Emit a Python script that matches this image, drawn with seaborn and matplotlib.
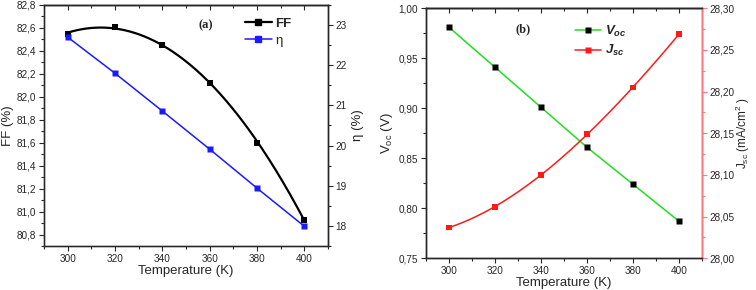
import numpy as np
import matplotlib
matplotlib.use("Agg")
import matplotlib.pyplot as plt
import seaborn as sns
from matplotlib.ticker import FuncFormatter, MultipleLocator
from matplotlib.lines import Line2D

# ---- data ----
temperature = [300, 320, 340, 360, 380, 400]
ff = [82.55, 82.61, 82.45, 82.12, 81.60, 80.93]
eta = [22.70, 21.80, 20.86, 19.91, 18.94, 17.99]
voc = [0.981, 0.941, 0.901, 0.861, 0.824, 0.787]
jsc = [28.037, 28.062, 28.100, 28.149, 28.205, 28.269]

sns.set_theme(style="ticks")
plt.rcParams['font.family'] = ['Liberation Sans', 'DejaVu Sans']
plt.rcParams['mathtext.fontset'] = 'custom'
plt.rcParams['mathtext.rm'] = 'Liberation Sans'
plt.rcParams['mathtext.it'] = 'Liberation Sans:italic:bold'
plt.rcParams['mathtext.bf'] = 'Liberation Sans:bold'

TICK = 7.2
LAB = 9.5

def comma(dec):
    return FuncFormatter(lambda v, p: f"{v:.{dec}f}".replace('.', ','))

fig = plt.figure(figsize=(7.56, 2.90), dpi=100)
axA = fig.add_axes([0.0582, 0.1517, 0.3757, 0.8311])
axB = fig.add_axes([0.5635, 0.1093, 0.3651, 0.8621])

T = np.array(temperature, dtype=float)
tt = np.linspace(300, 400, 200)

# ---- panel (a) ----
ffit = np.polyval(np.polyfit(T, ff, 2), tt)
sns.lineplot(x=tt, y=ffit, ax=axA, color='black', lw=1.6)
sns.scatterplot(x=T, y=ff, ax=axA, marker='s', color='black', s=18, edgecolor='none', zorder=5)
axA.set_xlim(290, 410)
axA.set_ylim(80.7, 82.8)
axA.yaxis.set_major_locator(MultipleLocator(0.2))
axA.yaxis.set_minor_locator(MultipleLocator(0.1))
axA.yaxis.set_major_formatter(comma(1))
axA.set_ylabel("FF (%)", fontsize=LAB, labelpad=2)

axA2 = axA.twinx()
sns.lineplot(x=T, y=eta, ax=axA2, color='#1a1aff', lw=1.1, marker='s', markersize=4.5,
             markeredgecolor='none')
axA2.set_ylim(17.5, 23.5)
axA2.yaxis.set_major_locator(MultipleLocator(1))
axA2.yaxis.set_minor_locator(MultipleLocator(0.5))
axA2.yaxis.set_major_formatter(comma(0))
axA2.set_ylabel("η (%)", fontsize=LAB, labelpad=4)

axA.text(0.57, 0.915, "(a)", transform=axA.transAxes, fontsize=9, fontweight='bold',
         family='Liberation Serif', ha='center', va='center')
hA = [Line2D([], [], color='black', lw=1.6, marker='s', markersize=4.5),
      Line2D([], [], color='#1a1aff', lw=1.1, marker='s', markersize=4.5)]
legA = axA.legend(hA, ["FF", "η"], loc='upper left', bbox_to_anchor=(0.69, 0.97),
                  frameon=False, fontsize=9.5, handlelength=2.0, handletextpad=0.3,
                  labelspacing=0.35, borderaxespad=0)
legA.get_texts()[0].set_fontweight('bold')

# ---- panel (b) ----
sns.lineplot(x=T, y=voc, ax=axB, color='#22dd22', lw=1.1, marker='s', markersize=4.5,
             markerfacecolor='black', markeredgecolor='none')
axB.set_xlim(290, 410)
axB.set_ylim(0.75, 1.00)
axB.yaxis.set_major_locator(MultipleLocator(0.05))
axB.yaxis.set_minor_locator(MultipleLocator(0.025))
axB.yaxis.set_major_formatter(comma(2))
axB.set_ylabel(r"V$_{\rm oc}$ (V)", fontsize=LAB, labelpad=3)

axB2 = axB.twinx()
jfit = np.polyval(np.polyfit(T, jsc, 3), tt)
sns.lineplot(x=tt, y=jfit, ax=axB2, color='#ff1a1a', lw=1.1)
sns.scatterplot(x=T, y=jsc, ax=axB2, marker='s', color='#ff1a1a', s=18, edgecolor='none', zorder=5)
axB2.set_ylim(28.00, 28.30)
axB2.yaxis.set_major_locator(MultipleLocator(0.05))
axB2.yaxis.set_minor_locator(MultipleLocator(0.025))
axB2.yaxis.set_major_formatter(comma(2))
axB2.set_ylabel(r"J$_{\rm sc}$ (mA/cm$^{\rm 2}$ )", fontsize=8.5, rotation=90,
                ha='center', va='center')
axB2.yaxis.set_label_coords(1.148, 0.5)
axB2.spines['right'].set_color('#ff7b7b')
axB2.spines['right'].set_linewidth(1.3)
axB2.tick_params(axis='y', which='both', color='#ff7b7b')

axB.text(0.35, 0.915, "(b)", transform=axB.transAxes, fontsize=9, fontweight='bold',
         family='Liberation Serif', ha='center', va='center')
hB = [Line2D([], [], color='#22dd22', lw=1.1, marker='s', markersize=4.5,
             markerfacecolor='black', markeredgecolor='none'),
      Line2D([], [], color='#ff1a1a', lw=1.1, marker='s', markersize=4.5, markeredgecolor='none')]
axB.legend(hB, [r"$V_{oc}$", r"$J_{sc}$"], loc='upper left', bbox_to_anchor=(0.52, 0.96),
           frameon=False, fontsize=9.5, handlelength=2.0, handletextpad=0.3,
           labelspacing=0.35, borderaxespad=0)

for ax, ax2 in [(axA, axA2), (axB, axB2)]:
    ax.xaxis.set_major_locator(MultipleLocator(20))
    ax.xaxis.set_minor_locator(MultipleLocator(10))
    ax.set_xlabel("Temperature (K)", fontsize=LAB, labelpad=1)
    for a in (ax, ax2):
        a.tick_params(which='both', labelsize=TICK, width=0.8, pad=2)
        a.tick_params(which='major', length=3.5)
        a.tick_params(which='minor', length=2)
        for s in a.spines.values():
            s.set_visible(True)
            s.set_linewidth(1.0)
    sec = ax.secondary_xaxis('top')
    sec.xaxis.set_major_locator(MultipleLocator(20))
    sec.xaxis.set_minor_locator(MultipleLocator(10))
    sec.tick_params(which='both', direction='in', labeltop=False, width=0.8)
    sec.tick_params(which='major', length=3.5)
    sec.tick_params(which='minor', length=2)
    sec.spines['top'].set_linewidth(1.0)

for s in ['left', 'top', 'bottom']:
    axA.spines[s].set_color('#666666')

fig.savefig("out.png", dpi=100)
